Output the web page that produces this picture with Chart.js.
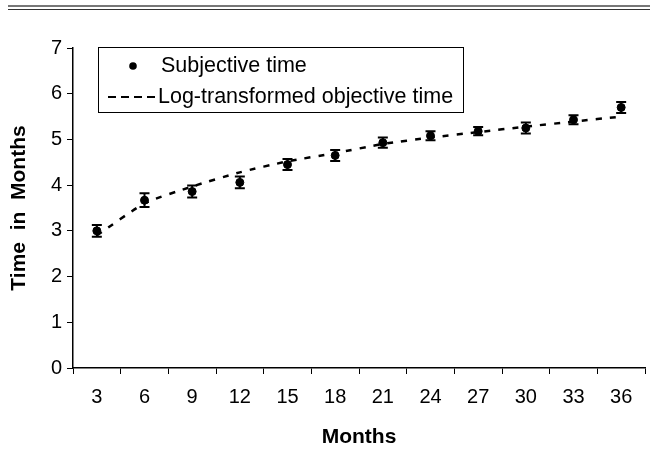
<!DOCTYPE html>
<html>
<head>
<meta charset="utf-8">
<script src="https://cdn.jsdelivr.net/npm/chart.js@4"></script>
<style>
  body { margin: 0; background: #fff; }
  #wrap { width: 650px; height: 474px; }
</style>
</head>
<body>
<div id="wrap"><canvas id="myChart" width="650" height="474"></canvas></div>
<script>
// Data
const months = ['3', '6', '9', '12', '15', '18', '21', '24', '27', '30', '33', '36'];
const subjective = [3.0, 3.67, 3.86, 4.06, 4.45, 4.65, 4.93, 5.08, 5.18, 5.25, 5.43, 5.70];
const subjectiveErr = [0.13, 0.15, 0.13, 0.13, 0.12, 0.12, 0.11, 0.10, 0.09, 0.12, 0.10, 0.12];
const logObjective = [2.9, 3.6, 3.97, 4.28, 4.52, 4.7, 4.9, 5.04, 5.16, 5.28, 5.39, 5.5];
const yTicks = [0, 1, 2, 3, 4, 5, 6, 7];

const FONT = '"Liberation Sans", Arial, Helvetica, sans-serif';

// error bars for the subjective series
const errorBars = {
    id: 'errorBars',
    beforeDatasetsDraw(chart) {
        const ctx = chart.ctx;
        const y = chart.scales.y;
        const meta = chart.getDatasetMeta(0);
        ctx.save();
        ctx.strokeStyle = '#000';
        ctx.lineWidth = 2;
        meta.data.forEach((pt, i) => {
            const top = y.getPixelForValue(subjective[i] + subjectiveErr[i]);
            const bot = y.getPixelForValue(subjective[i] - subjectiveErr[i]);
            ctx.beginPath();
            ctx.moveTo(pt.x, top);
            ctx.lineTo(pt.x, bot);
            ctx.moveTo(pt.x - 5, top);
            ctx.lineTo(pt.x + 5, top);
            ctx.moveTo(pt.x - 5, bot);
            ctx.lineTo(pt.x + 5, bot);
            ctx.stroke();
        });
        ctx.restore();
    }
};

// double rule on top and the boxed legend
const decorations = {
    id: 'decorations',
    afterDraw(chart) {
        const ctx = chart.ctx;
        ctx.save();
        ctx.fillStyle = '#777';
        ctx.fillRect(8, 5, 642, 2);
        ctx.fillStyle = '#333';
        ctx.fillRect(8, 9, 642, 1);

        // legend box
        ctx.fillStyle = '#fff';
        ctx.fillRect(98, 47, 365, 65);
        ctx.strokeStyle = '#000';
        ctx.lineWidth = 1;
        ctx.strokeRect(98.5, 47.5, 365, 65);

        ctx.fillStyle = '#000';
        ctx.beginPath();
        ctx.arc(133, 66, 3.8, 0, Math.PI * 2);
        ctx.fill();

        ctx.lineWidth = 2;
        ctx.setLineDash([8, 5]);
        ctx.beginPath();
        ctx.moveTo(108, 97);
        ctx.lineTo(157, 97);
        ctx.stroke();
        ctx.setLineDash([]);

        ctx.font = '21.5px ' + FONT;
        ctx.textBaseline = 'middle';
        ctx.textAlign = 'left';
        ctx.fillText(chart.data.datasets[0].label, 161, 66);
        ctx.fillText(chart.data.datasets[1].label, 158, 97);
        ctx.restore();
    }
};

const config = {
    type: 'line',
    data: {
        labels: months,
        datasets: [{
            label: 'Subjective time',
            data: subjective,
            showLine: false,
            pointRadius: 4,
            pointHoverRadius: 4,
            pointBackgroundColor: '#000',
            pointBorderColor: '#000',
            borderColor: '#000'
        }, {
            label: 'Log-transformed objective time',
            data: logObjective,
            borderColor: '#000',
            borderWidth: 2.5,
            borderDash: [6, 8],
            pointRadius: 0,
            tension: 0.2,
            fill: false
        }]
    },
    options: {
        responsive: false,
        animation: false,
        layout: {
            padding: { top: 48, right: 4, bottom: 22, left: 0 }
        },
        plugins: {
            legend: { display: false },
            tooltip: { enabled: false }
        },
        scales: {
            x: {
                type: 'category',
                offset: true,
                grid: {
                    offset: true,
                    drawOnChartArea: false,
                    color: '#000',
                    tickLength: 6,
                    tickColor: '#000'
                },
                border: { color: '#000', width: 1.5 },
                ticks: {
                    color: '#000',
                    padding: 11,
                    maxRotation: 0,
                    font: { family: FONT, size: 20 }
                },
                title: {
                    display: true,
                    text: 'Months',
                    color: '#000',
                    padding: { top: 0, bottom: 2 },
                    font: { family: FONT, size: 21, weight: 'bold' }
                },
                afterFit(scale) { scale.height = 84; }
            },
            y: {
                min: 0,
                max: 7,
                afterBuildTicks(scale) { scale.ticks = yTicks.map(v => ({ value: v })); },
                grid: {
                    drawOnChartArea: false,
                    tickLength: 6,
                    tickColor: '#000'
                },
                border: { color: '#000', width: 1.5 },
                ticks: {
                    color: '#000',
                    padding: 5,
                    font: { family: FONT, size: 20 }
                },
                title: {
                    display: true,
                    text: 'Time  in  Months',
                    color: '#000',
                    padding: { top: 7, bottom: 0 },
                    font: { family: FONT, size: 21, weight: 'bold' }
                },
                afterFit(scale) { scale.width = 73; }
            }
        }
    },
    plugins: [errorBars, decorations]
};

var myChart = new Chart(document.getElementById('myChart'), config);
</script>
</body>
</html>
